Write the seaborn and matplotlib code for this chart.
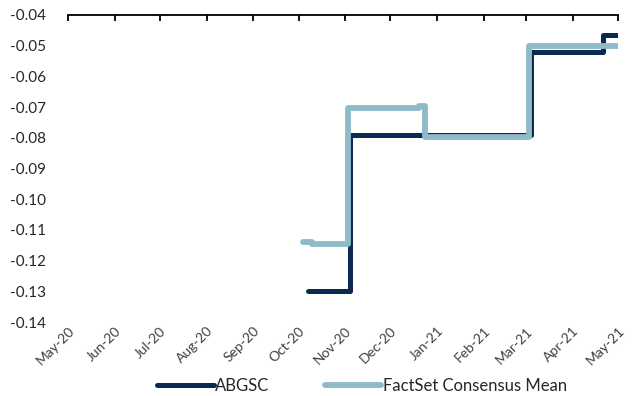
import matplotlib
matplotlib.use("Agg")
import matplotlib.pyplot as plt
import matplotlib.dates as mdates
from matplotlib.lines import Line2D
import pandas as pd
import seaborn as sns

# Step-change points for each estimate series (value holds until next date)
abgsc_dates = ["2020-10-07", "2020-11-04", "2021-03-04", "2021-04-21", "2021-05-01"]
abgsc_values = [-0.130, -0.079, -0.052, -0.0465, -0.0465]

factset_dates = ["2020-10-04", "2020-10-10", "2020-11-03", "2020-12-20",
                 "2020-12-24", "2021-03-03", "2021-05-01"]
factset_values = [-0.1138, -0.1145, -0.0702, -0.0695, -0.0796, -0.0502, -0.0502]

series_names = ["ABGSC", "FactSet Consensus Mean"]
series_colors = ["#0B2A52", "#8FBAC8"]
line_widths = [3.6, 4.2]
y_ticks = [-0.14, -0.13, -0.12, -0.11, -0.10, -0.09, -0.08, -0.07, -0.06, -0.05, -0.04]

df = pd.concat([
    pd.DataFrame({"date": pd.to_datetime(abgsc_dates), "value": abgsc_values,
                  "series": series_names[0]}),
    pd.DataFrame({"date": pd.to_datetime(factset_dates), "value": factset_values,
                  "series": series_names[1]}),
], ignore_index=True)

sns.set_style("white")
plt.rcParams["font.family"] = ["Lato", "DejaVu Sans"]

fig = plt.figure(figsize=(6.37, 3.96), dpi=100)
ax = fig.add_axes([68 / 637, 1 - 322 / 396, (618 - 68) / 637, (322 - 15) / 396])

sns.lineplot(data=df, x="date", y="value", hue="series", hue_order=series_names,
             palette=series_colors, drawstyle="steps-post", sort=False,
             estimator=None, ax=ax, legend=False)
for i, (line, lw) in enumerate(zip(ax.get_lines(), line_widths)):
    line.set_linewidth(lw)
    line.set_solid_capstyle("round")
    line.set_solid_joinstyle("round")
    line.set_zorder(2 + i)  # consensus line sits on top

ax.set_xlim(pd.Timestamp("2020-05-01"), pd.Timestamp("2021-05-01"))
ax.set_ylim(-0.14, -0.04)
ax.set_yticks(y_ticks)
ax.set_yticklabels([f"{v:.2f}" for v in y_ticks])
ax.xaxis.set_major_locator(mdates.MonthLocator())
ax.xaxis.set_major_formatter(mdates.DateFormatter("%b-%y"))

for s in ["left", "right", "bottom"]:
    ax.spines[s].set_visible(False)
ax.spines["top"].set_color("#000000")
ax.spines["top"].set_linewidth(1.3)

ax.tick_params(axis="x", top=True, bottom=False, labeltop=False, labelbottom=True,
               direction="in", length=4, width=1.3, color="#000000", pad=2,
               labelsize=10, labelcolor="#404040")
ax.tick_params(axis="y", left=False, labelsize=11, labelcolor="#262626", pad=12)
plt.setp(ax.get_xticklabels(), rotation=45, ha="right", rotation_mode="anchor")
ax.set_xlabel("")
ax.set_ylabel("")
ax.grid(False)

handles = [Line2D([], [], color=c, lw=lw, solid_capstyle="round")
           for c, lw in zip(series_colors, line_widths)]
fig.legend(handles, series_names, loc="center", bbox_to_anchor=(362 / 637, 1 - 386 / 396),
           ncol=2, frameon=False, fontsize=12, handlelength=3.4, handletextpad=0.1,
           columnspacing=3.3, labelcolor="#262626", borderaxespad=0, borderpad=0)

fig.savefig("out.png", dpi=100)
